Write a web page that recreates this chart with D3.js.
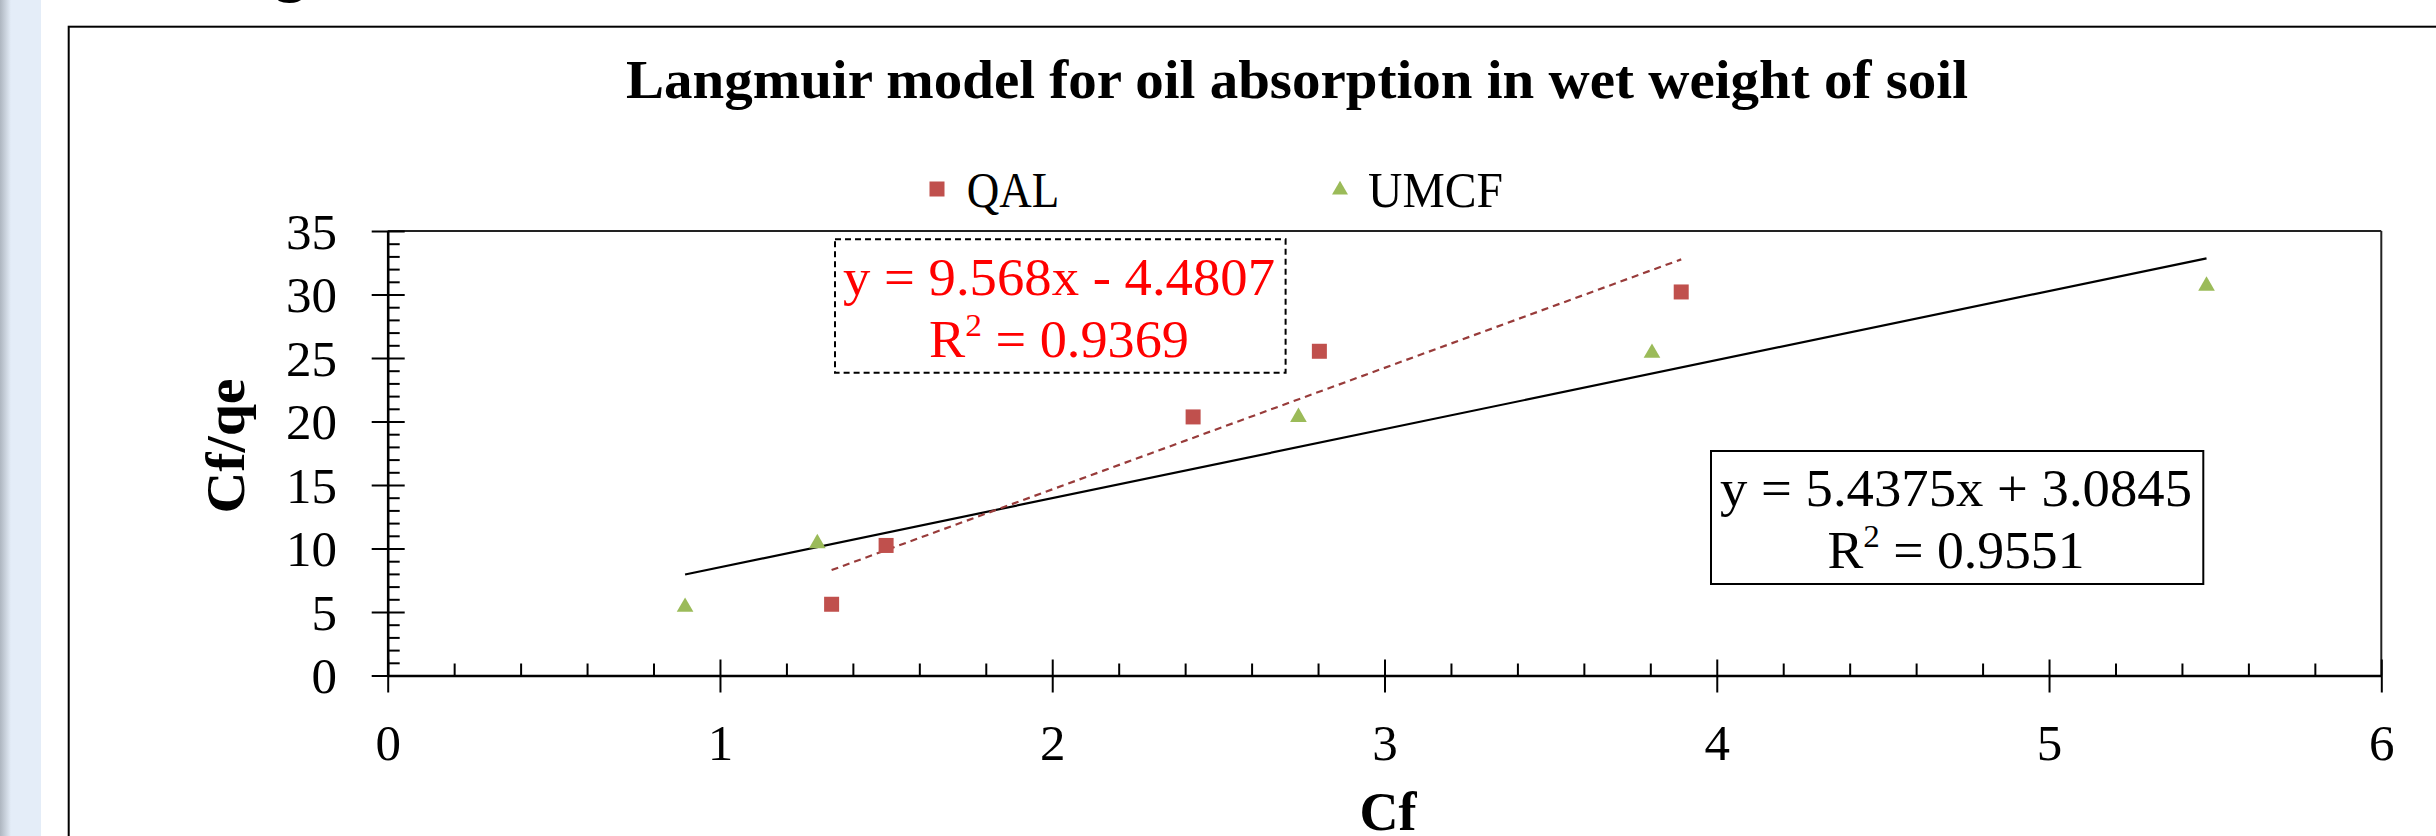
<!DOCTYPE html>
<html>
<head>
<meta charset="utf-8">
<script src="https://cdn.jsdelivr.net/npm/d3@7"></script>
<style>
  html, body { margin: 0; padding: 0; background: #fff; }
  svg { display: block; }
  text { font-family: "Liberation Serif", "Times New Roman", serif; }
</style>
</head>
<body>
<svg id="chart" width="2436" height="836"></svg>
<script>
// ---------------- data ----------------
const chartTitle = "Langmuir model for oil absorption in wet weight of soil";
const seriesNames = ["QAL", "UMCF"];
const qalCf   = [1.336, 1.50, 2.424, 2.804, 3.893];
const qalCfqe = [5.61, 10.24, 20.36, 25.53, 30.2];
const umcfCf   = [0.895, 1.293, 2.741, 3.805, 5.474];
const umcfCfqe = [5.47, 10.48, 20.42, 25.47, 30.75];
const trendSlopes = [9.568, 5.4375];
const trendIntercepts = [-4.4807, 3.0845];
const trendEquations = ["y = 9.568x - 4.4807", "y = 5.4375x + 3.0845"];
const trendR2 = ["0.9369", "0.9551"];
const xTickLabels = [0, 1, 2, 3, 4, 5, 6];
const yTickLabels = [0, 5, 10, 15, 20, 25, 30, 35];
const xTitle = "Cf";
const yTitle = "Cf/qe";

// ---------------- layout ----------------
const svg = d3.select("#chart");
const W = 2436, H = 836;
const plot = { left: 387.7, right: 2381.3, top: 231, bottom: 675.5 };
const x = d3.scaleLinear().domain([0, 6]).range([plot.left, plot.right]);
const y = d3.scaleLinear().domain([0, 35]).range([plot.bottom, plot.top]);

const qalColor = "#C0504D", umcfColor = "#9BBB59", qalTrendColor = "#983B3A";

// background
svg.append("rect").attr("x", 0).attr("y", 0).attr("width", W).attr("height", H).attr("fill", "#fff");
const defs = svg.append("defs");
const lg = defs.append("linearGradient").attr("id", "edge").attr("x1", 0).attr("x2", 1).attr("y1", 0).attr("y2", 0);
lg.append("stop").attr("offset", "0%").attr("stop-color", "#aeb6c0");
lg.append("stop").attr("offset", "100%").attr("stop-color", "#e4edf8");
svg.append("rect").attr("x", 0).attr("y", 0).attr("width", 41).attr("height", H).attr("fill", "#e4edf8");
svg.append("rect").attr("x", 0).attr("y", 0).attr("width", 11).attr("height", H).attr("fill", "url(#edge)");

// fragment of text above the chart (descender of "g")
svg.append("text").attr("x", 290).attr("y", -10).attr("text-anchor", "middle")
  .attr("font-size", 62).attr("font-weight", "bold").text("g");

// outer chart frame
svg.append("rect").attr("x", 68.7).attr("y", 26.7).attr("width", W).attr("height", H)
  .attr("fill", "none").attr("stroke", "#000").attr("stroke-width", 2);

// title
svg.append("text").attr("x", 1297).attr("y", 98).attr("text-anchor", "middle")
  .attr("font-size", 55).attr("font-weight", "bold")
  .attr("textLength", 1342).attr("lengthAdjust", "spacingAndGlyphs")
  .text(chartTitle);

// legend
const legY = 189;
svg.append("rect").attr("x", 937 - 7.5).attr("y", legY - 7.5).attr("width", 15).attr("height", 15).attr("fill", qalColor);
svg.append("text").attr("x", 966.7).attr("y", 206.7).attr("font-size", 51)
  .attr("textLength", 92.6).attr("lengthAdjust", "spacingAndGlyphs").text(seriesNames[0]);
svg.append("path").attr("d", d3.symbol().type(d3.symbolTriangle).size(110)())
  .attr("transform", `translate(1340,${legY + 1})`).attr("fill", umcfColor);
svg.append("text").attr("x", 1368).attr("y", 206.7).attr("font-size", 51)
  .attr("textLength", 135).attr("lengthAdjust", "spacingAndGlyphs").text(seriesNames[1]);

// plot border (top & right)
svg.append("line").attr("x1", x(0)).attr("x2", x(6)).attr("y1", y(35)).attr("y2", y(35))
  .attr("stroke", "#222").attr("stroke-width", 2);
svg.append("line").attr("x1", x(6)).attr("x2", x(6)).attr("y1", y(35)).attr("y2", y(0))
  .attr("stroke", "#222").attr("stroke-width", 2);

// minor ticks
const xMinor = d3.range(0, 6.001, 0.2).filter(v => Math.abs(v - Math.round(v)) > 1e-6);
const yMinor = d3.range(0, 35.001, 1).filter(v => v % 5 !== 0);
const gxm = svg.append("g").attr("transform", `translate(0,${y(0)})`)
  .call(d3.axisBottom(x).tickValues(xMinor).tickSize(-12).tickFormat(""));
gxm.select(".domain").remove();
gxm.selectAll(".tick line").attr("stroke", "#000").attr("stroke-width", 2);
const gym = svg.append("g").attr("transform", `translate(${x(0)},0)`)
  .call(d3.axisLeft(y).tickValues(yMinor).tickSize(-12).tickFormat(""));
gym.select(".domain").remove();
gym.selectAll(".tick line").attr("stroke", "#000").attr("stroke-width", 2);

// major axes
const gx = svg.append("g").attr("transform", `translate(0,${y(0)})`)
  .call(d3.axisBottom(x).tickValues(xTickLabels).tickSize(17).tickSizeOuter(0).tickFormat(d3.format("d")));
gx.select(".domain").attr("stroke", "#000").attr("stroke-width", 2.6);
gx.selectAll(".tick line").attr("y1", -16).attr("y2", 17).attr("stroke", "#000").attr("stroke-width", 2);
gx.selectAll(".tick text").attr("y", 760 - y(0)).attr("dy", null)
  .attr("font-size", 51).attr("font-family", "Liberation Serif").attr("fill", "#000");

const gy = svg.append("g").attr("transform", `translate(${x(0)},0)`)
  .call(d3.axisLeft(y).tickValues(yTickLabels).tickSize(16).tickSizeOuter(0).tickFormat(d3.format("d")));
gy.select(".domain").attr("stroke", "#000").attr("stroke-width", 2.6);
gy.selectAll(".tick line").attr("x1", 17).attr("x2", -16).attr("stroke", "#000").attr("stroke-width", 2);
gy.selectAll(".tick text").attr("x", 337 - x(0)).attr("dy", "0.34em")
  .attr("font-size", 51).attr("font-family", "Liberation Serif").attr("fill", "#000");

// axis titles
svg.append("text").attr("x", 1388).attr("y", 830).attr("text-anchor", "middle")
  .attr("font-size", 54).attr("font-weight", "bold").text(xTitle);
svg.append("text").attr("transform", "translate(244,446) rotate(-90)").attr("text-anchor", "middle")
  .attr("font-size", 54).attr("font-weight", "bold")
  .attr("textLength", 135).attr("lengthAdjust", "spacingAndGlyphs").text(yTitle);

// trendlines
const line = d3.line().x(d => x(d[0])).y(d => y(d[1]));
const qalExt = d3.extent(qalCf), umcfExt = d3.extent(umcfCf);
svg.append("path").datum(umcfExt.map(v => [v, trendSlopes[1] * v + trendIntercepts[1]]))
  .attr("d", line).attr("fill", "none").attr("stroke", "#000").attr("stroke-width", 2.2);
svg.append("path").datum(qalExt.map(v => [v, trendSlopes[0] * v + trendIntercepts[0]]))
  .attr("d", line).attr("fill", "none").attr("stroke", qalTrendColor).attr("stroke-width", 2.2)
  .attr("stroke-dasharray", "7,5");

// points
const qalPts = qalCf.map((v, i) => [v, qalCfqe[i]]);
const umcfPts = umcfCf.map((v, i) => [v, umcfCfqe[i]]);
svg.append("g").selectAll("rect").data(qalPts).join("rect")
  .attr("x", d => x(d[0]) - 7.5).attr("y", d => y(d[1]) - 7.5)
  .attr("width", 15).attr("height", 15).attr("fill", qalColor);
svg.append("g").selectAll("path").data(umcfPts).join("path")
  .attr("d", d3.symbol().type(d3.symbolTriangle).size(120)())
  .attr("transform", d => `translate(${x(d[0])},${y(d[1]) + 1})`).attr("fill", umcfColor);

// equation boxes
function eqBox(bx, by, bw, bh, color, dashed, eq, r2, cx, b1, w1, b2, w2) {
  svg.append("rect").attr("x", bx).attr("y", by).attr("width", bw).attr("height", bh)
    .attr("fill", "#fff").attr("stroke", "#000").attr("stroke-width", 2)
    .attr("stroke-dasharray", dashed ? "6,4" : null);
  svg.append("text").attr("x", cx).attr("y", b1).attr("text-anchor", "middle")
    .attr("font-size", 52).attr("fill", color)
    .attr("textLength", w1).attr("lengthAdjust", "spacingAndGlyphs").text(eq);
  const t = svg.append("text").attr("x", cx).attr("y", b2).attr("text-anchor", "middle")
    .attr("font-size", 52).attr("fill", color)
    .attr("textLength", w2).attr("lengthAdjust", "spacingAndGlyphs");
  t.append("tspan").text("R");
  t.append("tspan").attr("font-size", 32).attr("dy", -21).text("2");
  t.append("tspan").attr("dy", 21).text(" = " + r2);
}
eqBox(835, 239.3, 450.6, 133.4, "#FF0000", true, trendEquations[0], trendR2[0], 1059, 295, 432, 357.3, 260);
eqBox(1711, 451, 492.3, 133, "#000000", false, trendEquations[1], trendR2[1], 1956, 506, 472, 568.3, 257);
</script>
</body>
</html>
